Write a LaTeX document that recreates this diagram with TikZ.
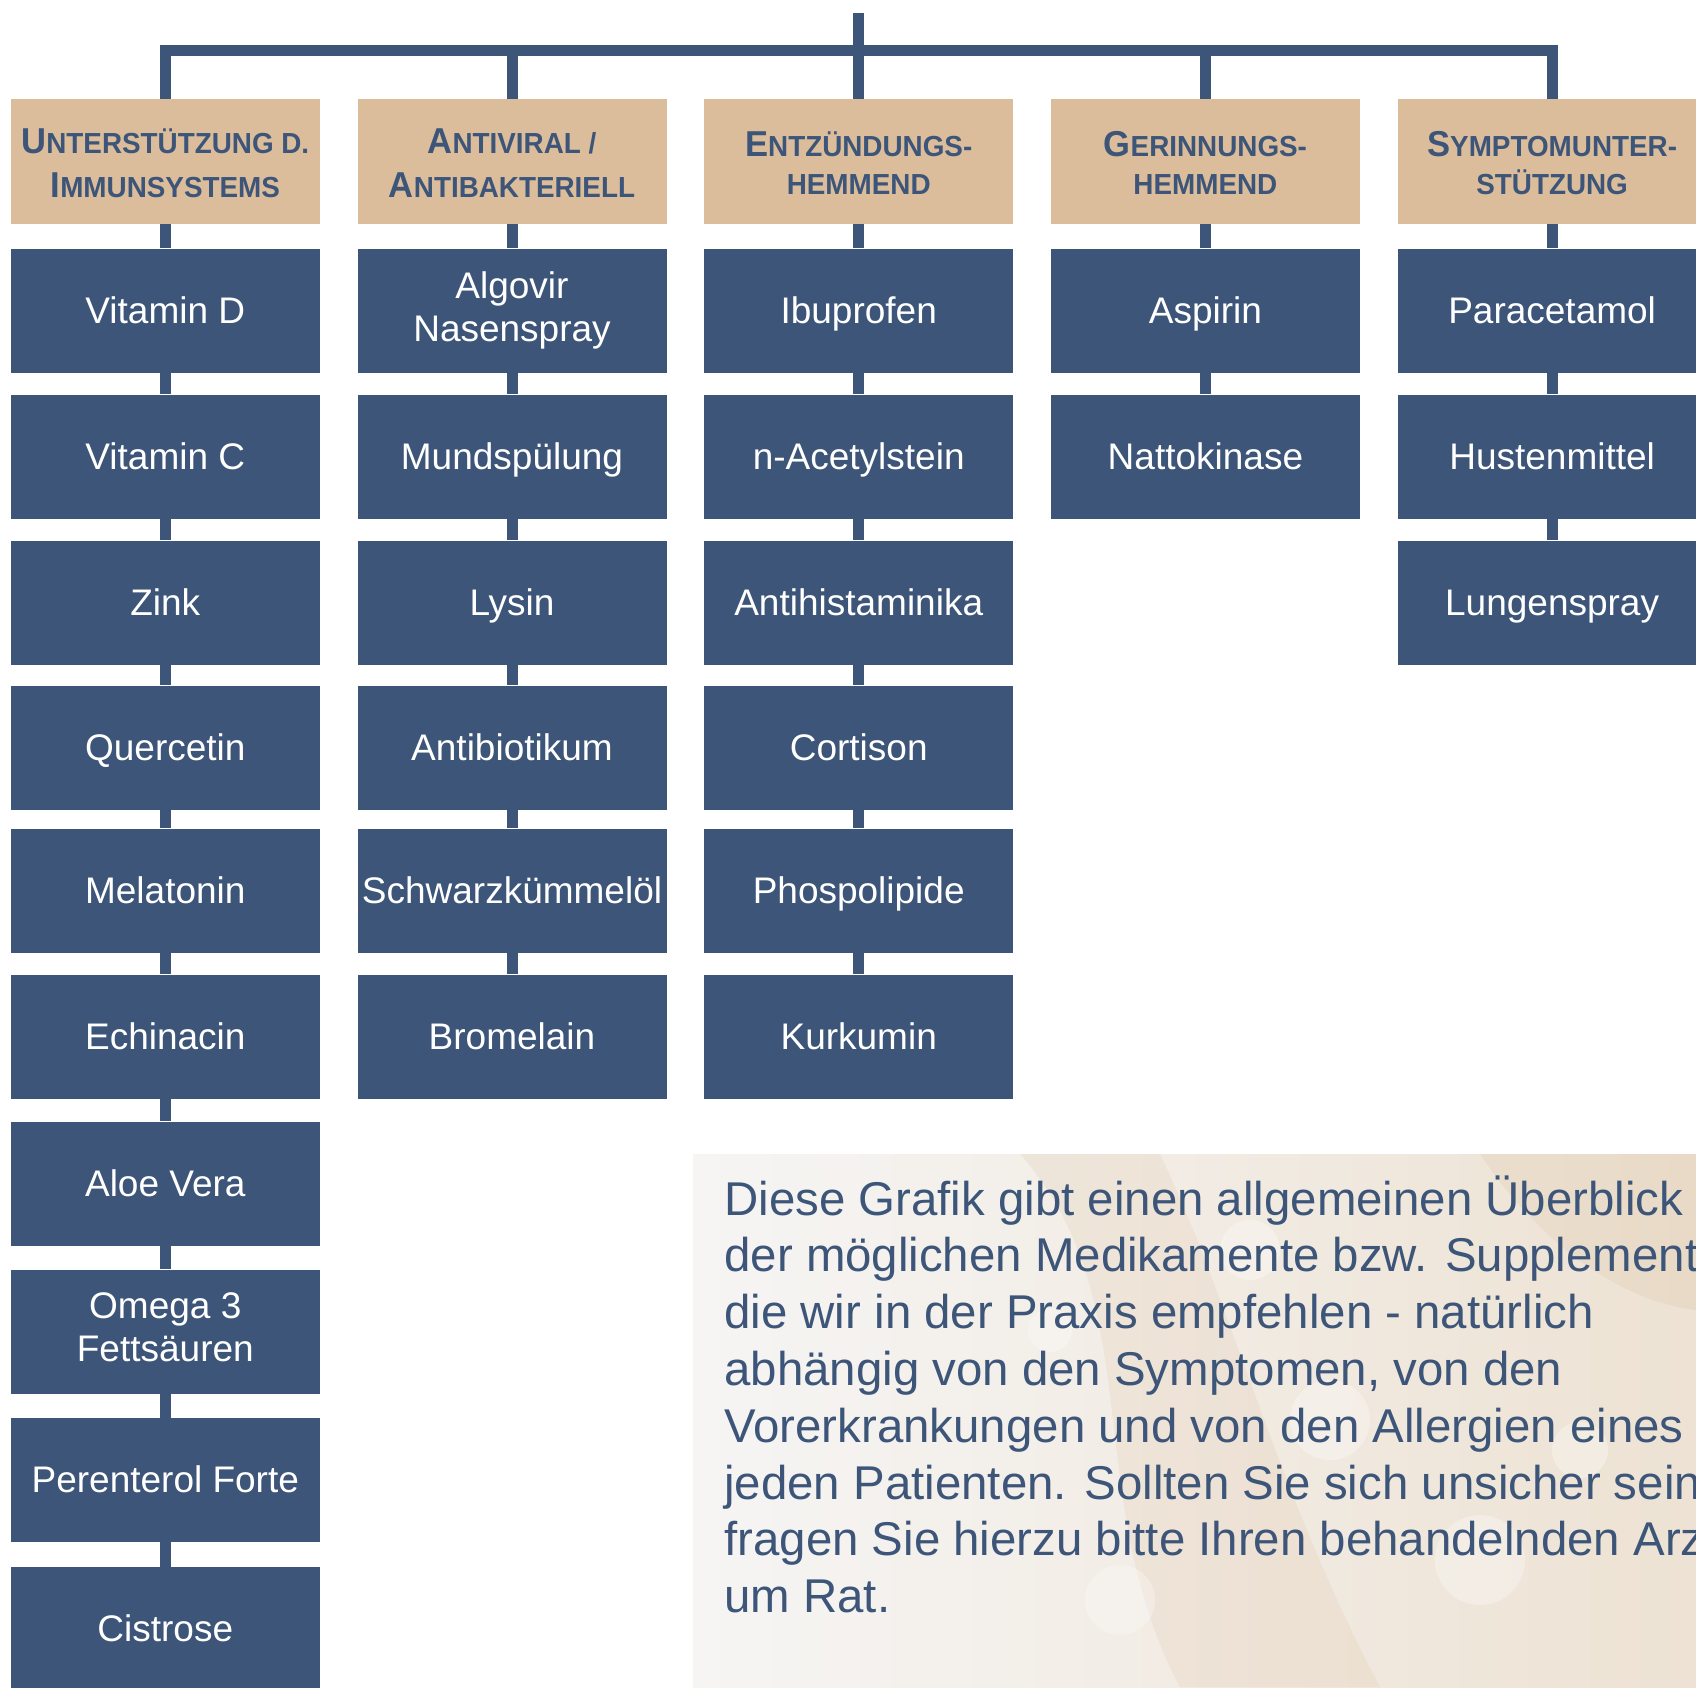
\documentclass[tikz,border=0pt]{standalone}
\usepackage{fontspec}
\setmainfont{Liberation Sans}
\newfontfamily\headfont[FakeStretch=0.96]{Liberation Sans}
\usetikzlibrary{positioning, backgrounds}
\definecolor{navy}{HTML}{3C5578}
\definecolor{sand}{HTML}{DCBD9B}
\definecolor{panelgrey}{HTML}{F6F5F4}
\definecolor{panelsand}{HTML}{EDE2D3}
% header lines with fake small caps
\newcommand{\hsc}[2]{#1{\fontsize{14.5}{22}\selectfont #2}}
\newcommand{\htop}[2]{\rule{0pt}{18pt}\hsc{#1}{#2}}
% line box strut
\newcommand{\lstrut}{\rule[-0.24em]{0pt}{1.17em}}

\begin{document}
\begin{tikzpicture}[
      x=0.5pt, y=-0.5pt,
      head/.style={rectangle, fill=sand, text=navy, inner sep=0pt, align=center, font=\headfont\bfseries\fontsize{18}{22}\selectfont, minimum width=154.5pt, minimum height=62.3pt, execute at end node=\lstrut},
      item/.style={rectangle, fill=navy, text=white, inner sep=0pt, align=center, font=\fontsize{18.5}{21.5}\selectfont, minimum width=154.5pt, minimum height=62pt, execute at begin node=\lstrut, execute at end node=\lstrut},
      link/.style={draw=navy, line width=5.5pt}
  ]
      \useasboundingbox (0,0) rectangle (1696,1687);
      \clip (0,0) rectangle (1696,1687);

      % Category headers
      \node[head] (immun) at (165.3, 161.5) {\htop{U}{NTERSTÜTZUNG D.}\\\hsc{I}{MMUNSYSTEMS}};
      \node[head] (viral) at (512.0, 161.5) {\htop{A}{NTIVIRAL /}\\\hsc{A}{NTIBAKTERIELL}};
      \node[head] (entz) at (858.7, 161.5) {\htop{E}{NTZÜNDUNGS-}\\[-3pt]\hsc{}{HEMMEND}};
      \node[head] (gerin) at (1205.4, 161.5) {\htop{G}{ERINNUNGS-}\\[-3pt]\hsc{}{HEMMEND}};
      \node[head] (sympt) at (1552.1, 161.5) {\htop{S}{YMPTOMUNTER-}\\[-3pt]\hsc{}{STÜTZUNG}};

      % Immunsystem
      \node[item] (vitd) at (165.3, 310.8) {Vitamin D};
      \node[item] (vitc) at (165.3, 456.8) {Vitamin C};
      \node[item] (zink) at (165.3, 602.8) {Zink};
      \node[item] (querc) at (165.3, 747.7) {Quercetin};
      \node[item] (melat) at (165.3, 890.5) {Melatonin};
      \node[item] (echin) at (165.3, 1036.5) {Echinacin};
      \node[item] (aloe) at (165.3, 1183.6) {Aloe Vera};
      \node[item] (omega) at (165.3, 1331.8) {Omega 3\\Fettsäuren};
      \node[item] (peren) at (165.3, 1480.0) {Perenterol Forte};
      \node[item] (cistr) at (165.3, 1629.2) {Cistrose};

      % Antiviral / antibakteriell
      \node[item] (algov) at (512.0, 310.8) {Algovir\\Nasenspray};
      \node[item] (mund) at (512.0, 456.8) {Mundspülung};
      \node[item] (lysin) at (512.0, 602.8) {Lysin};
      \node[item] (antib) at (512.0, 747.7) {Antibiotikum};
      \node[item] (schwa) at (512.0, 890.5) {Schwarzkümmelöl};
      \node[item] (brome) at (512.0, 1036.5) {Bromelain};

      % Entzündungshemmend
      \node[item] (ibupr) at (858.7, 310.8) {Ibuprofen};
      \node[item] (nacet) at (858.7, 456.8) {n-Acetylstein};
      \node[item] (antih) at (858.7, 602.8) {Antihistaminika};
      \node[item] (corti) at (858.7, 747.7) {Cortison};
      \node[item] (phosp) at (858.7, 890.5) {Phospolipide};
      \node[item] (kurku) at (858.7, 1036.5) {Kurkumin};

      % Gerinnungshemmend
      \node[item] (aspir) at (1205.4, 310.8) {Aspirin};
      \node[item] (natto) at (1205.4, 456.8) {Nattokinase};

      % Symptomunterstuetzung
      \node[item] (parac) at (1552.1, 310.8) {Paracetamol};
      \node[item] (huste) at (1552.1, 456.8) {Hustenmittel};
      \node[item] (lunge) at (1552.1, 602.8) {Lungenspray};

      % Tree connectors
      \begin{scope}[on background layer]
          \coordinate (root) at (858.7, 13);
          \coordinate (bar) at (858.7, 50.5);
          \draw[link] (root) -- (entz);
          \draw[link] (immun.north) |- (bar) -| (sympt.north);
          \draw[link] (viral.north) -- (viral.north |- bar);
          \draw[link] (gerin.north) -- (gerin.north |- bar);
          \foreach \a/\b in {immun/vitd, vitd/vitc, vitc/zink, zink/querc, querc/melat, melat/echin, echin/aloe, aloe/omega, omega/peren, peren/cistr,
                             viral/algov, algov/mund, mund/lysin, lysin/antib, antib/schwa, schwa/brome,
                             entz/ibupr, ibupr/nacet, nacet/antih, antih/corti, corti/phosp, phosp/kurku,
                             gerin/aspir, aspir/natto, sympt/parac, parac/huste, huste/lunge}
              \draw[link] (\a) -- (\b);
      \end{scope}

      % Note panel
      \begin{scope}
          \clip (693,1154) rectangle (1696,1687);
          \fill[left color=panelgrey, right color=panelsand] (693,1154) rectangle (1696,1687);
          \fill[sand, opacity=0.18] (1020,1154) .. controls (1150,1300) and (1080,1500) .. (1180,1687) -- (1380,1687) .. controls (1280,1500) and (1230,1300) .. (1160,1154) -- cycle;
          \fill[sand, opacity=0.2] (1480,1154) .. controls (1530,1230) and (1610,1300) .. (1696,1310) -- (1696,1154) -- cycle;
          \foreach \cx/\cy/\r in {1250/1250/30, 1330/1420/40, 1120/1600/35, 1480/1560/45, 1580/1450/28, 1050/1330/22}
              \fill[white, opacity=0.3] (\cx,\cy) circle (\r);
          \node[anchor=base west, inner sep=0pt, align=left, text=navy, font=\fontsize{23.7}{28.4}\selectfont] (note) at (724,1612.6)
              {Diese Grafik gibt einen allgemeinen Überblick\\
               der möglichen Medikamente bzw. Supplemente,\\
               die wir in der Praxis empfehlen - natürlich\\
               abhängig von den Symptomen, von den\\
               Vorerkrankungen und von den Allergien eines\\
               jeden Patienten. Sollten Sie sich unsicher sein,\\
               fragen Sie hierzu bitte Ihren behandelnden Arzt\\
               um Rat.};
      \end{scope}

  \end{tikzpicture}
\end{document}
